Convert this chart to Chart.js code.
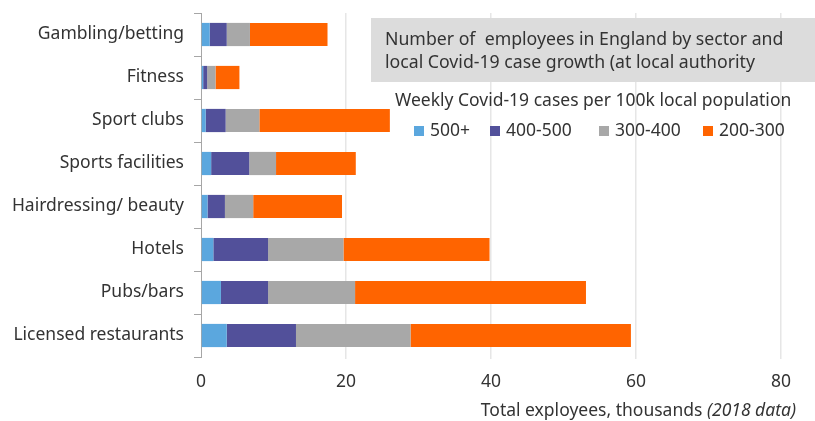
<!DOCTYPE html>
<html>
<head>
<meta charset="utf-8">
<script src="https://cdn.jsdelivr.net/npm/chart.js@4"></script>
<style>
  body { margin: 0; background: #fff; }
  canvas { display: block; }
</style>
</head>
<body>
<canvas id="myChart" width="815" height="421"></canvas>
<script>
let sectors = ["Gambling/betting", "Fitness", "Sport clubs", "Sports facilities",
  "Hairdressing/ beauty", "Hotels", "Pubs/bars", "Licensed restaurants"]

// employees (thousands) in each case-rate band
let cases500plus = [1.2, 0.3, 0.65, 1.4, 0.9, 1.7, 2.75, 3.55]
let cases400to500 = [2.35, 0.55, 2.75, 5.25, 2.4, 7.55, 6.5, 9.55]
let cases300to400 = [3.2, 1.15, 4.65, 3.7, 3.9, 10.4, 12.0, 15.8]
let cases200to300 = [10.7, 3.3, 18.0, 11.0, 12.25, 20.15, 31.85, 30.4]

let bandLabels = ["500+", "400-500", "300-400", "200-300"]
let bandColors = ["#5BA7DE", "#52509A", "#A8A8A8", "#FF6400"]
let xTicks = [0, 20, 40, 60, 80]

let font = "'Noto Sans', sans-serif"
let textColor = "#333333"
let size = 17.5

// title box, legend and axis title drawn on top
let overlay = {
  id: "overlay",
  afterDraw(chart) {
    let c = chart.ctx
    c.save()
    c.fillStyle = "#DCDCDC"
    c.fillRect(371, 18, 444, 64)
    c.fillStyle = textColor
    c.textBaseline = "middle"
    c.textAlign = "left"
    c.font = "17.7px " + font
    c.fillText("Number of  employees in England by sector and", 385, 40)
    c.fillText("local Covid-19 case growth (at local authority", 385, 63)

    c.font = size + "px " + font
    c.fillText("Weekly Covid-19 cases per 100k local population", 395, 101)

    let xs = [414, 490, 599, 703]
    chart.data.datasets.forEach((ds, i) => {
      c.fillStyle = ds.backgroundColor
      c.fillRect(xs[i], 126, 10, 10)
      c.fillStyle = textColor
      c.fillText(ds.label, xs[i] + 16, 131)
    })

    // x axis title, italic part at the end
    let part1 = "Total exployees, thousands "
    let part2 = "(2018 data)"
    c.font = "italic " + size + "px " + font
    let w2 = c.measureText(part2).width
    c.font = size + "px " + font
    let w1 = c.measureText(part1).width
    let right = 796
    c.fillText(part1, right - w2 - w1, 411)
    c.font = "italic " + size + "px " + font
    c.fillText(part2, right - w2, 411)
    c.restore()
  }
}

let data = [cases500plus, cases400to500, cases300to400, cases200to300]

let ctx = document.getElementById("myChart").getContext("2d")

let myChart = new Chart(ctx, {
  type: "bar",
  data: {
    labels: sectors,
    datasets: data.map((values, i) => ({
      label: bandLabels[i],
      data: values,
      backgroundColor: bandColors[i],
      borderWidth: 0,
      categoryPercentage: 0.54,
      barPercentage: 1
    }))
  },
  options: {
    indexAxis: "y",
    responsive: false,
    animation: false,
    layout: { padding: { left: 0, right: 34, top: 13, bottom: 0 } },
    plugins: {
      legend: { display: false },
      tooltip: { enabled: false }
    },
    scales: {
      x: {
        stacked: true,
        min: 0,
        max: 80,
        afterBuildTicks: scale => { scale.ticks = xTicks.map(v => ({ value: v })) },
        afterFit: scale => {
          scale.height = 64
          scale.paddingLeft = 0
          scale.paddingRight = 0
        },
        border: { display: false },
        grid: {
          color: c => c.tick && c.tick.value === 0 ? "rgba(0,0,0,0)" : "#E6E6E6",
          lineWidth: 1.5,
          drawTicks: true,
          tickLength: 2
        },
        ticks: {
          color: textColor,
          font: { family: font, size: size },
          padding: 13
        }
      },
      y: {
        stacked: true,
        afterFit: scale => {
          scale.width = 201
          scale.paddingTop = 0
          scale.paddingBottom = 0
        },
        border: { color: "#A6A6A6", width: 1 },
        grid: {
          offset: true,
          drawOnChartArea: false,
          drawTicks: true,
          tickLength: 7,
          color: "#A6A6A6"
        },
        ticks: {
          color: textColor,
          font: { family: font, size: size },
          padding: 10
        }
      }
    }
  },
  plugins: [overlay]
})
</script>
</body>
</html>
